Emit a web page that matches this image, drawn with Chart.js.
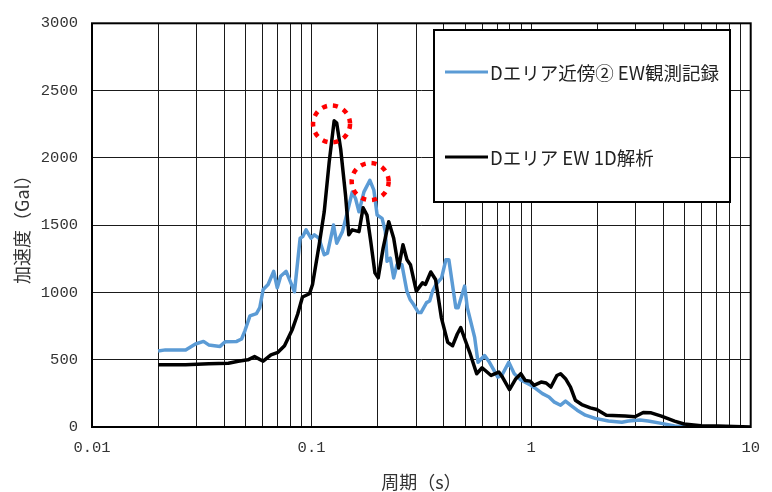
<!DOCTYPE html>
<html lang="ja">
<head>
<meta charset="utf-8">
<title>加速度応答スペクトル</title>
<script src="https://cdn.jsdelivr.net/npm/chart.js@4.4.1/dist/chart.umd.min.js"></script>
<style>
  html, body { margin: 0; padding: 0; background: #fff; }
  #wrap { width: 772px; height: 492px; }
</style>
</head>
<body>
<div id="wrap"><canvas id="chart" width="772" height="492"></canvas></div>
<script>
// Dエリア近傍② EW観測記録 : period (s) / acceleration (Gal)
const obsPeriod = [0.020, 0.0216, 0.0267, 0.0296, 0.0322, 0.034, 0.0383, 0.0404, 0.0456, 0.048,
  0.0497, 0.0524, 0.0561, 0.0581, 0.0602, 0.0634, 0.0672, 0.0698, 0.0723, 0.0766,
  0.0836, 0.0887, 0.0912, 0.0944, 0.0994, 0.103, 0.108, 0.1142, 0.1182, 0.1259,
  0.1302, 0.1382, 0.1456, 0.1533, 0.1586, 0.1644, 0.1732, 0.1843, 0.1922, 0.1989,
  0.2095, 0.2168, 0.2207, 0.2284, 0.2366, 0.2449, 0.258, 0.2717, 0.281, 0.291,
  0.307, 0.315, 0.334, 0.345, 0.356, 0.3685, 0.391, 0.409, 0.422, 0.454,
  0.465, 0.498, 0.512, 0.553, 0.573, 0.614, 0.646, 0.705, 0.735, 0.791,
  0.838, 0.898, 0.997, 1.05, 1.126, 1.206, 1.27, 1.362, 1.434, 1.511,
  1.62, 1.767, 1.96, 2.25, 2.59, 2.77, 3.13, 3.41, 3.92, 4.5,
  5.17, 7.0];
const obsAcc = [565, 573, 573, 617, 636, 610, 599, 634, 636, 654,
  715, 826, 843, 887, 1022, 1059, 1157, 1034, 1120, 1157,
  1005, 1403, 1415, 1465, 1403, 1428, 1403, 1280, 1292, 1501,
  1366, 1452, 1599, 1747, 1698, 1599, 1747, 1833, 1760, 1575,
  1550, 1452, 1231, 1255, 1108, 1206, 1206, 1010, 948, 912,
  850, 850, 924, 936, 1010, 1059, 1108, 1243, 1243, 887,
  887, 1047, 887, 666, 481, 531, 481, 371, 383, 481,
  396, 350, 310, 285, 248, 223, 187, 162, 192, 162,
  125, 88, 64, 44, 35, 44, 52, 44, 27, 7,
  0, 0];

// Dエリア EW 1D解析
const simPeriod = [0.020, 0.0267, 0.034, 0.0418, 0.0463, 0.0513, 0.055, 0.0602, 0.0653, 0.0703,
  0.0753, 0.0818, 0.0864, 0.0909, 0.0978, 0.101, 0.1083, 0.1142, 0.1203, 0.1267,
  0.1302, 0.1357, 0.1428, 0.1478, 0.1533, 0.1644, 0.1717, 0.1788, 0.186, 0.1944,
  0.2011, 0.2118, 0.2247, 0.2366, 0.249, 0.2608, 0.272, 0.282, 0.30, 0.32,
  0.33, 0.349, 0.367, 0.39, 0.417, 0.439, 0.461, 0.478, 0.502, 0.528,
  0.565, 0.598, 0.657, 0.7125, 0.74, 0.797, 0.852, 0.898, 0.94, 0.99,
  1.03, 1.11, 1.17, 1.23, 1.31, 1.362, 1.434, 1.511, 1.59, 1.70,
  1.86, 1.99, 2.2, 2.68, 2.97, 3.24, 3.52, 3.92, 4.5, 4.97,
  5.94, 7.06, 10];
const simAcc = [462, 462, 470, 474, 489, 499, 523, 489, 536, 555,
  604, 727, 838, 966, 990, 1059, 1354, 1599, 1968, 2275,
  2258, 2066, 1722, 1428, 1465, 1452, 1629, 1575, 1378, 1145,
  1108, 1329, 1526, 1403, 1181, 1354, 1243, 1206, 1010, 1071,
  1059, 1152, 1096, 813, 629, 604, 691, 739, 641, 543,
  396, 440, 383, 408, 371, 278, 359, 396, 346, 341,
  310, 334, 327, 297, 383, 396, 359, 297, 199, 167,
  142, 130, 88, 81, 76, 108, 105, 81, 44, 22,
  10, 7, 0];

const seriesNames = ['Dエリア近傍② EW観測記録', 'Dエリア EW 1D解析'];
const xTickValues = [0.01, 0.1, 1, 10];
const xTickLabels = ['0.01', '0.1', '1', '10'];
const yTickValues = [0, 500, 1000, 1500, 2000, 2500, 3000];
// peaks circled in red
const markPeriod = [0.1233, 0.1849];
const markAcc = [2252, 1824];

const JP = '"Noto Sans CJK JP", sans-serif';
const NUM = '"Liberation Mono", monospace';
const BLUE = '#5b9bd5';

// gridlines at 1..9 x 10^n
const xGrid = [];
for (let e = -2; e <= 0; e++) {
  for (let m = 1; m <= 9; m++) xGrid.push(parseFloat((m * Math.pow(10, e)).toPrecision(3)));
}
xGrid.push(10);

const toPoints = (xs, ys) => xs.map((t, i) => ({ x: t, y: ys[i] }));

const frame = {
  id: 'frame',
  afterDatasetsDraw(chart) {
    const { ctx, chartArea: a, scales } = chart;
    ctx.save();

    // dotted circles
    ctx.strokeStyle = '#ff0000';
    ctx.lineWidth = 4.5;
    ctx.setLineDash([5, 6]);
    markPeriod.forEach((p, i) => {
      ctx.beginPath();
      ctx.arc(scales.x.getPixelForValue(p), scales.y.getPixelForValue(markAcc[i]), 18.5, 0, Math.PI * 2);
      ctx.stroke();
    });
    ctx.setLineDash([]);

    // plot border
    ctx.strokeStyle = '#000';
    ctx.lineWidth = 2;
    ctx.strokeRect(a.left, a.top, a.right - a.left, a.bottom - a.top);

    // legend box
    const bx = 434, by = 30, bw = 296, bh = 172;
    ctx.fillStyle = '#fff';
    ctx.fillRect(bx, by, bw, bh);
    ctx.strokeRect(bx, by, bw, bh);
    const colors = [BLUE, '#000'];
    const rows = [72, 157];
    ctx.font = '18.5px ' + JP;
    ctx.textBaseline = 'middle';
    ctx.textAlign = 'left';
    seriesNames.forEach((name, i) => {
      ctx.strokeStyle = colors[i];
      ctx.lineWidth = 3;
      ctx.beginPath();
      ctx.moveTo(445, rows[i]);
      ctx.lineTo(488, rows[i]);
      ctx.stroke();
      ctx.fillStyle = '#222';
      ctx.fillText(name, 490, rows[i] + 1);
    });
    ctx.restore();
  }
};

new Chart(document.getElementById('chart'), {
  type: 'line',
  data: {
    datasets: [
      {
        label: seriesNames[1],
        data: toPoints(simPeriod, simAcc),
        borderColor: '#000',
        borderWidth: 3.5
      },
      {
        label: seriesNames[0],
        data: toPoints(obsPeriod, obsAcc),
        borderColor: BLUE,
        borderWidth: 3.5
      }
    ]
  },
  options: {
    responsive: false,
    animation: false,
    parsing: false,
    elements: { point: { radius: 0 }, line: { tension: 0, borderJoinStyle: 'round' } },
    layout: { padding: { left: 0, right: 15, top: 20, bottom: 0 } },
    plugins: { legend: { display: false }, tooltip: { enabled: false } },
    scales: {
      x: {
        type: 'logarithmic',
        position: 'bottom',
        min: 0.01,
        max: 10,
        afterBuildTicks: (s) => { s.ticks = xGrid.map(v => ({ value: v })); },
        afterFit: (s) => { s.height = 65; },
        grid: { color: '#1a1a1a', lineWidth: 1, drawTicks: false },
        border: { display: false },
        ticks: {
          autoSkip: false,
          maxRotation: 0,
          minRotation: 0,
          padding: 12,
          color: '#333',
          font: { family: NUM, size: 15.5 },
          callback: (v) => {
            const k = xTickValues.findIndex(t => Math.abs(t - v) < t * 1e-6);
            return k >= 0 ? xTickLabels[k] : '';
          }
        },
        title: {
          display: true,
          text: '周期（s）',
          color: '#333',
          font: { family: JP, size: 18, lineHeight: 1 },
          padding: { top: 0, bottom: 1 }
        }
      },
      y: {
        min: 0,
        max: 3000,
        afterBuildTicks: (s) => { s.ticks = yTickValues.map(v => ({ value: v })); },
        afterFit: (s) => { s.width = 92; },
        grid: { color: '#1a1a1a', lineWidth: 1, drawTicks: false },
        border: { display: false },
        ticks: {
          padding: 14,
          color: '#333',
          font: { family: NUM, size: 15.5 },
          callback: (v) => String(v)
        },
        title: {
          display: true,
          text: '加速度（Gal）',
          color: '#333',
          font: { family: JP, size: 18, lineHeight: 1.2 },
          padding: { top: 11, bottom: 0 }
        }
      }
    }
  },
  plugins: [frame]
});
</script>
</body>
</html>
